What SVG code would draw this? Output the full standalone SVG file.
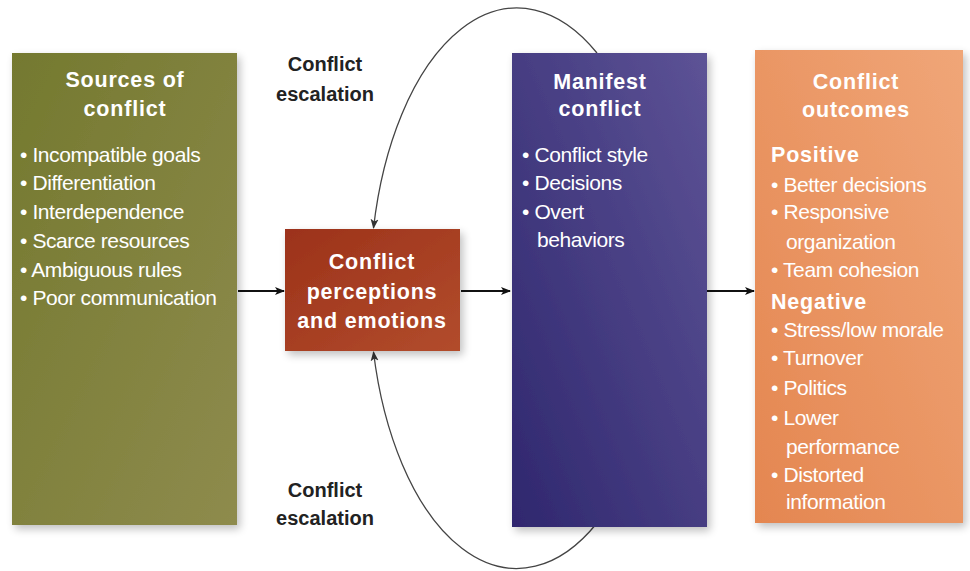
<svg xmlns="http://www.w3.org/2000/svg" width="970" height="571" viewBox="0 0 970 571">
<defs>
<linearGradient id="gGreen" x1="0" y1="0" x2="1" y2="1">
<stop offset="0" stop-color="#74792f"/>
<stop offset="1" stop-color="#8e8b4d"/>
</linearGradient>
<linearGradient id="gRed" x1="0" y1="0" x2="1" y2="1">
<stop offset="0" stop-color="#9c321a"/>
<stop offset="1" stop-color="#b24c2c"/>
</linearGradient>
<linearGradient id="gBlue" x1="0" y1="1" x2="1" y2="0">
<stop offset="0" stop-color="#2f276e"/>
<stop offset="1" stop-color="#5d5396"/>
</linearGradient>
<linearGradient id="gOrange" x1="0" y1="1" x2="1" y2="0">
<stop offset="0" stop-color="#e48650"/>
<stop offset="1" stop-color="#f0a678"/>
</linearGradient>
<filter id="shadow" x="-10%" y="-10%" width="130%" height="130%">
<feGaussianBlur in="SourceAlpha" stdDeviation="4"/>
<feOffset dx="3" dy="4" result="b"/>
<feComponentTransfer><feFuncA type="linear" slope="0.25"/></feComponentTransfer>
<feMerge><feMergeNode/><feMergeNode in="SourceGraphic"/></feMerge>
</filter>
<marker id="arr" viewBox="0 0 10 10" refX="9" refY="5" markerWidth="10" markerHeight="10" markerUnits="userSpaceOnUse" orient="auto">
<path d="M0,1 L10,5 L0,9 L2.5,5 z" fill="#111"/>
</marker>
<marker id="arrT" viewBox="0 0 10 10" refX="9" refY="5" markerWidth="10" markerHeight="10" markerUnits="userSpaceOnUse" orient="auto">
<path d="M0,1 L10,5 L0,9 L2.5,5 z" fill="#333"/>
</marker>
</defs>
<style>
.t{font-family:"Liberation Sans",Arial,sans-serif;fill:#fff;}
.h{font-weight:bold;font-size:21.5px;letter-spacing:0.8px;}
.b{font-size:21px;letter-spacing:-0.4px;}
.lbl{font-family:"Liberation Sans",Arial,sans-serif;font-weight:bold;font-size:20px;fill:#222;}
.conn{stroke:#111;stroke-width:2;fill:none;}
.loop{stroke:#444;stroke-width:1.3;fill:none;}
</style>
<rect width="970" height="571" fill="#ffffff"/>

<g id="connectors">
<path class="loop" d="M597,53 A147,280 0 0 0 373.5,228" marker-end="url(#arrT)"/>
<path class="loop" d="M597,523 A147,280 0 0 1 373.5,352" marker-end="url(#arrT)"/>
<line class="conn" x1="238" y1="291" x2="284" y2="291" marker-end="url(#arr)"/>
<line class="conn" x1="461" y1="291" x2="510" y2="291" marker-end="url(#arr)"/>
<line class="conn" x1="707" y1="291" x2="754" y2="291" marker-end="url(#arr)"/>
</g>

<g id="label-top">
<text class="lbl" x="325" y="71" text-anchor="middle">Conflict</text>
<text class="lbl" x="325" y="101" text-anchor="middle">escalation</text>
</g>
<g id="label-bottom">
<text class="lbl" x="325" y="497" text-anchor="middle">Conflict</text>
<text class="lbl" x="325" y="525" text-anchor="middle">escalation</text>
</g>

<g id="sources">
<rect x="12" y="53" width="225" height="472" fill="url(#gGreen)" filter="url(#shadow)"/>
<text class="t h" x="125" y="87" text-anchor="middle">Sources of</text>
<text class="t h" x="125" y="116" text-anchor="middle">conflict</text>
<text class="t b" x="20" y="162">• Incompatible goals</text>
<text class="t b" x="20" y="190">• Differentiation</text>
<text class="t b" x="20" y="219">• Interdependence</text>
<text class="t b" x="20" y="248">• Scarce resources</text>
<text class="t b" x="20" y="277">• Ambiguous rules</text>
<text class="t b" x="20" y="305">• Poor communication</text>
</g>

<g id="perceptions">
<rect x="285" y="229" width="175" height="122" fill="url(#gRed)" filter="url(#shadow)"/>
<text class="t h" x="372" y="269" text-anchor="middle">Conflict</text>
<text class="t h" x="372" y="299" text-anchor="middle">perceptions</text>
<text class="t h" x="372" y="328" text-anchor="middle">and emotions</text>
</g>

<g id="manifest">
<rect x="512" y="53" width="195" height="474" fill="url(#gBlue)" filter="url(#shadow)"/>
<text class="t h" x="600" y="89" text-anchor="middle">Manifest</text>
<text class="t h" x="600" y="116" text-anchor="middle">conflict</text>
<text class="t b" x="522" y="162">• Conflict style</text>
<text class="t b" x="522" y="190">• Decisions</text>
<text class="t b" x="522" y="219">• Overt</text>
<text class="t b" x="537" y="247">behaviors</text>
</g>

<g id="outcomes">
<rect x="755" y="50" width="208" height="473" fill="url(#gOrange)" filter="url(#shadow)"/>
<text class="t h" x="856" y="89" text-anchor="middle">Conflict</text>
<text class="t h" x="856" y="117" text-anchor="middle">outcomes</text>
<text class="t h" x="771" y="162">Positive</text>
<text class="t b" x="771" y="192">• Better decisions</text>
<text class="t b" x="771" y="219">• Responsive</text>
<text class="t b" x="786" y="249">organization</text>
<text class="t b" x="771" y="277">• Team cohesion</text>
<text class="t h" x="771" y="309">Negative</text>
<text class="t b" x="771" y="337">• Stress/low morale</text>
<text class="t b" x="771" y="365">• Turnover</text>
<text class="t b" x="771" y="395">• Politics</text>
<text class="t b" x="771" y="425">• Lower</text>
<text class="t b" x="786" y="454">performance</text>
<text class="t b" x="771" y="482">• Distorted</text>
<text class="t b" x="786" y="509">information</text>
</g>
</svg>
